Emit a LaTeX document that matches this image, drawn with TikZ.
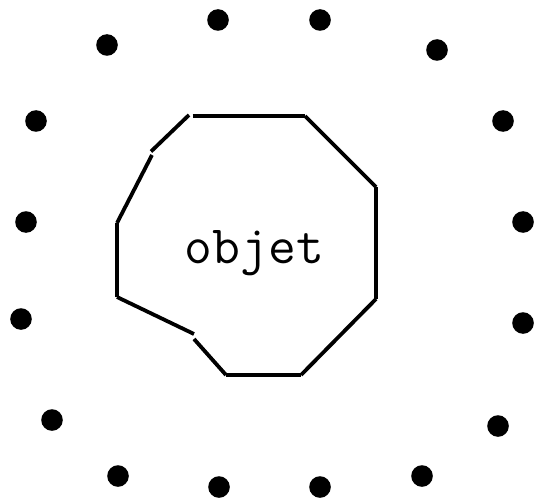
\documentclass[tikz,border=0pt]{standalone}
\begin{document}
\begin{tikzpicture}[x=1pt,y=-1pt,
  dot/.style={circle,fill=black,inner sep=0pt,minimum size=21.6pt},
  edge/.style={line width=3.8pt,line cap=butt,black},
  label/.style={inner sep=0pt,anchor=base,font=\ttfamily\fontsize{54}{62}\selectfont}]
\useasboundingbox (0,0) rectangle (534,497);
% dots
\node[dot] (d1) at (107,45) {};
\node[dot] (d2) at (218,20) {};
\node[dot] (d3) at (320,20) {};
\node[dot] (d4) at (437,50) {};
\node[dot] (d5) at (36,121) {};
\node[dot] (d6) at (503,121) {};
\node[dot] (d7) at (26,222) {};
\node[dot] (d8) at (523,222) {};
\node[dot] (d9) at (21,319) {};
\node[dot] (d10) at (523,323) {};
\node[dot] (d11) at (52,420) {};
\node[dot] (d12) at (498,426) {};
\node[dot] (d13) at (118,476) {};
\node[dot] (d14) at (219,487) {};
\node[dot] (d15) at (320,487) {};
\node[dot] (d16) at (422,476) {};
% outline vertices
\coordinate (a1) at (192.5,116);
\coordinate (a2) at (305,116);
\coordinate (a3) at (376,187);
\coordinate (a4) at (376,299);
\coordinate (a5) at (301,375);
\coordinate (a6) at (226,375);
\coordinate (a7) at (194,339);
\coordinate (b1) at (194,334);
\coordinate (b2) at (117,297);
\coordinate (b3) at (117,223);
\coordinate (b4) at (152,155);
\coordinate (c1) at (151,151.5);
\coordinate (c2) at (189,115);
\draw[edge] (a1) -- (a2);
\draw[edge] (a2) -- (a3);
\draw[edge] (a3) -- (a4);
\draw[edge] (a4) -- (a5);
\draw[edge] (a5) -- (a6);
\draw[edge] (a6) -- (a7);
\draw[edge] (b1) -- (b2);
\draw[edge] (b2) -- (b3);
\draw[edge] (b3) -- (b4);
\draw[edge] (c1) -- (c2);
\node[label] (obj) at (254.5,263) {objet};
\end{tikzpicture}
\end{document}
